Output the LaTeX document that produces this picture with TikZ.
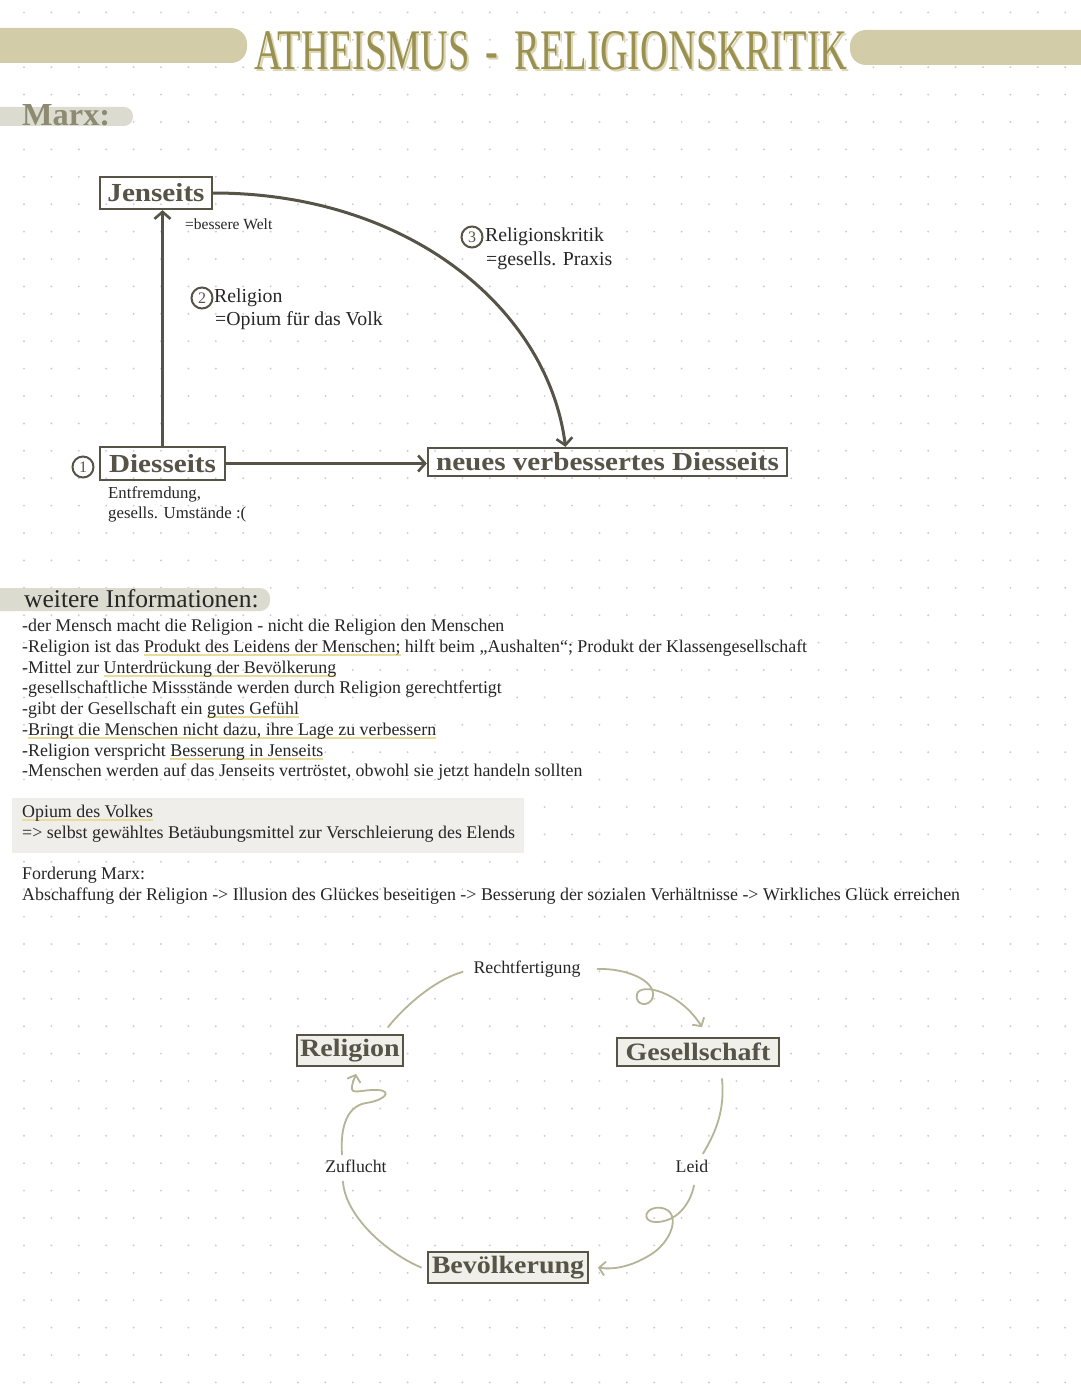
\documentclass[tikz,border=0pt]{standalone}
\usepackage{fontspec}
\usepackage{graphicx}
\setmainfont{Liberation Serif}
\usetikzlibrary{arrows.meta}
\definecolor{ink}{HTML}{565347}
\definecolor{gold}{HTML}{9A9150}
\definecolor{goldsh}{HTML}{DCD6B4}
\definecolor{bar}{HTML}{D3CCA8}
\definecolor{marxbar}{HTML}{DCDBCF}
\definecolor{marxtxt}{HTML}{8C8A70}
\definecolor{sage}{HTML}{B3B596}
\definecolor{boxfill}{HTML}{F1EFEA}
\definecolor{hl}{HTML}{EADC9C}
\definecolor{dotc}{HTML}{CFCFCF}
\definecolor{txt}{HTML}{262626}
\definecolor{opfill}{HTML}{EFEEEA}
\newsavebox\hlbox
\newcommand\hlu[1]{\sbox\hlbox{#1}\rlap{\color{hl}\rule[-3.5pt]{\wd\hlbox}{1.6pt}}\usebox\hlbox}
\newcommand\wide[1]{\scalebox{1.12}[1]{#1}}
\begin{document}
\begin{tikzpicture}[x=1pt,y=-1pt,
  lbox/.style={draw=ink, line width=2.3pt, inner sep=0pt, text=ink, font=\fontsize{26}{26}\selectfont\bfseries},
  cbox/.style={draw=ink, line width=1.8pt, fill=boxfill, inner sep=0pt, text=ink, font=\fontsize{25}{25}\selectfont\bfseries},
  arr/.style={draw=ink, line width=3pt, -{Straight Barb[length=7pt,width=16pt,line width=2.6pt]}},
  carr/.style={draw=sage, line width=1.8pt, line cap=round},
  ctip/.style={-{Straight Barb[length=6pt,width=14pt,line width=1.8pt]}},
  num/.style={circle, draw=ink, line width=2pt, inner sep=0pt, minimum size=21pt, text=ink, font=\fontsize{16}{16}\selectfont},
  lab/.style={inner sep=0pt, anchor=west, text=txt, font=\fontsize{19.8}{19.8}\selectfont},
  small/.style={inner sep=0pt, anchor=west, text=txt, font=\fontsize{16.8}{16.8}\selectfont},
  info/.style={inner sep=0pt, anchor=base west, text=txt, font=\fontsize{17.9}{17.9}\selectfont},
  clab/.style={inner sep=2pt, text=txt, font=\fontsize{17.8}{17.8}\selectfont}]
\useasboundingbox (0,0) rectangle (1080,1394);
\fill[white] (0,0) rectangle (1080,1394);
% dot grid
\foreach \i in {0,...,38} {\foreach \j in {0,...,50} {\fill[dotc] (24+27.4*\i,12.4+27.4*\j) circle (1.1);}}
% title
\fill[bar, rounded corners=16pt] (-30,28) rectangle (247,63);
\fill[bar, rounded corners=16pt] (850,30) rectangle (1110,65);
\node[inner sep=0pt, text=goldsh] (titlesh) at (553,53) {\resizebox{593pt}{38pt}{ATHEISMUS \,-\, RELIGIONSKRITIK}};
\node[inner sep=0pt, text=gold] (title) at (551,51) {\resizebox{593pt}{38pt}{ATHEISMUS \,-\, RELIGIONSKRITIK}};
% Marx
\fill[marxbar, rounded corners=9pt] (-30,107) rectangle (133,126);
\node[inner sep=0pt, anchor=west, text=marxtxt] (marx) at (22,115) {\resizebox{88pt}{21pt}{\bfseries Marx:}};
% diagram 1
\node[lbox, minimum width=112pt, minimum height=32pt] (jen) at (156,193) {\wide{Jenseits}};
\node[lbox, minimum width=125pt, minimum height=33pt] (dies) at (162.5,463.5) {\wide{Diesseits}};
\node[lbox, minimum width=359pt, minimum height=28pt] (neu) at (607.5,462) {\wide{neues verbessertes Diesseits}};
\node[num] (n1) at (83,467) {1};
\node[num] (n2) at (202,298) {2};
\node[num] (n3) at (472,237) {3};
\node[small, font=\fontsize{15.5}{15.5}\selectfont] (welt) at (185,224) {=bessere Welt};
\node[lab] (rel1) at (214,298) {Religion};
\node[lab] (rel2) at (215,321) {=Opium für das Volk};
\node[lab] (rk1) at (485,237) {Religionskritik};
\node[lab] (rk2) at (486,261) {=gesells. Praxis};
\node[small] (ent1) at (108,494) {Entfremdung,};
\node[small] (ent2) at (108,514) {gesells. Umstände :(};
\draw[arr] (dies.north) -- (dies.north |- jen.south);
\draw[arr] (dies.east) -- (dies.east -| neu.west);
\draw[arr] (jen.east) .. controls (410,193) and (548,310) .. ([xshift=-42pt]neu.north);
% weitere Informationen
\fill[marxbar, rounded corners=10pt] (-30,588) rectangle (270,611);
\node[inner sep=0pt, anchor=west, text=txt, font=\fontsize{25.5}{25.5}\selectfont] (wi) at (24,599) {weitere Informationen:};
\node[info] (i1) at (22,631) {-der Mensch macht die Religion - nicht die Religion den Menschen};
\node[info] (i2) at (22,652) {-Religion ist das \hlu{Produkt des Leidens der Menschen;} hilft beim „Aushalten“; Produkt der Klassengesellschaft};
\node[info] (i3) at (22,673) {-Mittel zur \hlu{Unterdrückung der Bevölkerung}};
\node[info] (i4) at (22,693) {-gesellschaftliche Missstände werden durch Religion gerechtfertigt};
\node[info] (i5) at (22,714) {-gibt der Gesellschaft ein \hlu{gutes Gefühl}};
\node[info] (i6) at (22,735) {-\hlu{Bringt die Menschen nicht dazu, ihre Lage zu verbessern}};
\node[info] (i7) at (22,756) {-Religion verspricht \hlu{Besserung in Jenseits}};
\node[info] (i8) at (22,776) {-Menschen werden auf das Jenseits vertröstet, obwohl sie jetzt handeln sollten};
% Opium box
\fill[opfill] (12,798) rectangle (524,853);
\node[info] (op1) at (22,817) {\hlu{Opium des Volkes}};
\node[info] (op2) at (22,838) {=> selbst gewähltes Betäubungsmittel zur Verschleierung des Elends};
\node[info] (f1) at (22,879) {Forderung Marx:};
\node[info] (f2) at (22,900) {Abschaffung der Religion -> Illusion des Glückes beseitigen -> Besserung der sozialen Verhältnisse -> Wirkliches Glück erreichen};
% cycle
\node[cbox, minimum width=106pt, minimum height=31pt] (crel) at (350,1050.5) {\wide{Religion}};
\node[cbox, minimum width=162pt, minimum height=28pt] (cges) at (698,1052) {\wide{Gesellschaft}};
\node[cbox, minimum width=160pt, minimum height=31pt] (cbev) at (508,1267.5) {\wide{Bevölkerung}};
\node[clab] (recht) at (527,969) {Rechtfertigung};
\node[clab] (zuf) at (356,1166) {Zuflucht};
\node[clab] (leid) at (692,1166) {Leid};
\draw[carr] ([xshift=38pt,yshift=7pt]crel.north) .. controls (410,1000) and (440,978) .. ([xshift=-9pt,yshift=-3pt]recht.west);
\draw[carr, ctip] ([xshift=15pt]recht.east) .. controls (625,968) and (655,980) .. (653,996) .. controls (651,1008) and (634,1006) .. (637,994) .. controls (641,982) and (680,992) .. ([xshift=4pt,yshift=10pt]cges.north);
\draw[carr] ([xshift=24pt,yshift=-12pt]cges.south) .. controls (725,1110) and (716,1132) .. ([xshift=11pt,yshift=4pt]leid.north);
\draw[carr, ctip] ([xshift=2pt,yshift=-11pt]leid.south) .. controls (690,1205) and (676,1222) .. (656,1222) .. controls (640,1222) and (645,1205) .. (662,1208) .. controls (682,1212) and (672,1242) .. (650,1255) .. controls (632,1266) and (615,1270) .. ([xshift=9pt]cbev.east);
\draw[carr] ([xshift=-6pt]cbev.west) .. controls (385,1252) and (345,1215) .. ([xshift=-13pt,yshift=-7pt]zuf.south);
\draw[carr, ctip] ([xshift=-14pt,yshift=3pt]zuf.north) .. controls (340,1125) and (348,1106) .. (366,1103) .. controls (386,1100) and (392,1091) .. (378,1090) .. controls (362,1089) and (350,1096) .. (352,1086) .. controls (353,1081) and (355,1077) .. ([xshift=6pt,yshift=-7pt]crel.south);
\end{tikzpicture}
\end{document}
